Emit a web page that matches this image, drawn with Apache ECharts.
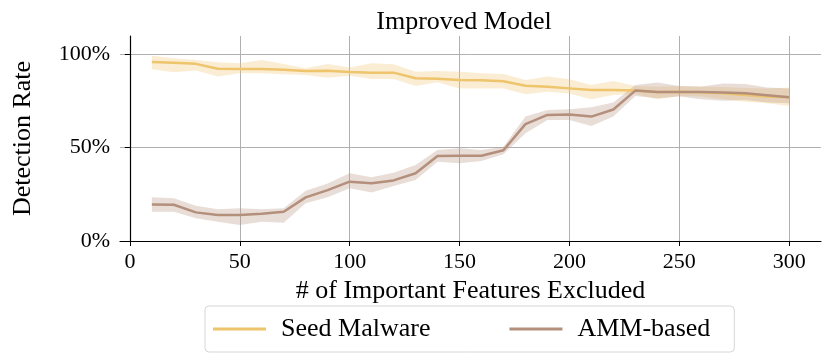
<!DOCTYPE html>
<html>
<head>
<meta charset="utf-8">
<script src="https://cdn.jsdelivr.net/npm/echarts@6/dist/echarts.min.js"></script>
<style>
    html, body { margin: 0; padding: 0; background: #fff; }
    #chart { width: 830px; height: 362px; }
</style>
</head>
<body>
<div id="chart"></div>
<script>
// number of important features excluded
const xValues = [10, 20, 30, 40, 50, 60, 70, 80, 90, 100, 110, 120, 130, 140, 150,
    160, 170, 180, 190, 200, 210, 220, 230, 240, 250, 260, 270, 280, 290, 300];

// detection rate (%), mean and band edges
const seedMean = [95.7, 95.3, 94.7, 92.1, 92.0, 92.0, 91.5, 90.9, 91.0, 90.3, 90.0, 90.0, 87.0, 86.8, 86.1,
    86.0, 85.4, 83.0, 82.5, 81.6, 80.7, 80.7, 80.4, 79.5, 79.8, 79.5, 79.0, 78.0, 77.2, 76.8];
const seedHigh = [99.1, 97.7, 96.8, 95.5, 95.0, 96.8, 94.6, 92.3, 94.6, 92.8, 95.0, 94.5, 90.5, 90.9, 90.5,
    89.7, 89.3, 86.1, 87.9, 86.5, 83.4, 85.6, 82.9, 82.5, 82.9, 82.5, 82.3, 81.8, 81.5, 82.0];
const seedLow = [91.8, 90.2, 91.1, 87.9, 89.7, 89.7, 89.1, 88.8, 87.3, 88.4, 86.6, 86.6, 82.9, 84.9, 81.5,
    81.5, 81.5, 78.4, 79.8, 78.8, 75.8, 78.0, 78.6, 75.8, 77.5, 77.2, 75.8, 74.5, 73.6, 72.2];

const ammMean = [19.5, 19.4, 15.3, 13.9, 13.9, 14.6, 15.6, 23.3, 27.2, 31.7, 30.9, 32.4, 36.2, 45.5, 45.6,
    45.6, 48.5, 62.5, 67.4, 67.6, 66.5, 70.3, 80.4, 79.6, 79.6, 79.6, 79.4, 79.0, 77.9, 76.8];
const ammHigh = [23.4, 22.8, 18.9, 17.0, 17.5, 17.0, 17.5, 26.9, 30.8, 36.2, 34.1, 36.5, 40.6, 48.7, 49.6,
    48.7, 50.4, 66.5, 70.1, 70.4, 71.5, 74.0, 83.4, 84.7, 82.9, 82.6, 84.2, 84.0, 82.0, 81.5];
const ammLow = [15.7, 15.7, 12.1, 10.3, 8.6, 10.3, 9.8, 20.2, 23.4, 28.2, 25.9, 29.4, 32.6, 42.4, 41.6,
    42.8, 46.4, 57.6, 64.7, 64.7, 61.5, 66.5, 77.5, 76.3, 77.2, 75.8, 75.0, 75.4, 74.0, 73.6];

const xTicks = [0, 50, 100, 150, 200, 250, 300];
const yTicks = [0, 50, 100];

const seedColor = '#eec46c';
const ammColor = '#b48f7c';
const font = 'Liberation Serif';

function pairs(ys) {
    return xValues.map((x, i) => [x, ys[i]]);
}

// shaded band between low and high, drawn as one polygon through the axes
function band(key, lo, hi, fill) {
    return {
        name: key + '-band',
        type: 'custom',
        silent: true,
        data: xValues.map((x, i) => [x, lo[i], hi[i]]),
        encode: { x: 0, y: [1, 2] },
        renderItem: function (params, api) {
            if (params.dataIndex !== 0) return;
            const top = xValues.map((x, i) => api.coord([x, hi[i]]));
            const bottom = xValues.map((x, i) => api.coord([x, lo[i]])).reverse();
            return {
                type: 'polygon',
                shape: { points: top.concat(bottom) },
                style: { fill: fill }
            };
        }
    };
}

var myChart = echarts.init(document.getElementById('chart'));

myChart.setOption({
    animation: false,
    textStyle: { fontFamily: font },
    title: {
        text: 'Improved Model',
        left: 459,
        top: 4,
        textAlign: 'center',
        textStyle: { fontFamily: font, fontSize: 26, fontWeight: 'normal', color: '#000' }
    },
    legend: {
        data: ['Seed Malware', 'AMM-based'],
        left: 205,
        top: 306,
        icon: 'rect',
        itemWidth: 53,
        itemHeight: 3,
        itemGap: 79,
        padding: [8, 24, 8, 8],
        borderColor: '#d6d6d6',
        borderWidth: 1,
        borderRadius: 4,
        textStyle: { fontFamily: font, fontSize: 26, color: '#000', lineHeight: 30, padding: [0, 0, 0, 10] }
    },
    grid: {
        left: 120,
        right: 9,
        top: 36,
        bottom: 121
    },
    xAxis: {
        type: 'value',
        min: -4.5,
        max: 314.5,
        name: '# of Important Features Excluded',
        nameLocation: 'middle',
        nameGap: 36,
        nameTextStyle: { fontFamily: font, fontSize: 26, color: '#000' },
        axisLine: { show: true, onZero: false, lineStyle: { color: '#000', width: 1.2 } },
        axisTick: { show: true, customValues: xTicks, length: 5, lineStyle: { color: '#000' } },
        axisLabel: { customValues: xTicks, margin: 10, fontFamily: font, fontSize: 22, color: '#000' },
        splitLine: { show: true, lineStyle: { color: '#b0b0b0', width: 1 } }
    },
    yAxis: {
        type: 'value',
        min: 0,
        max: 109.6,
        name: 'Detection Rate',
        nameLocation: 'middle',
        nameGap: 84,
        nameTextStyle: { fontFamily: font, fontSize: 26, color: '#000' },
        axisLine: { show: true, lineStyle: { color: '#000', width: 1.2 } },
        axisTick: { show: true, customValues: yTicks, length: 5, lineStyle: { color: '#000' } },
        axisLabel: {
            customValues: yTicks, margin: 10, fontFamily: font, fontSize: 22, color: '#000',
            formatter: v => v + '%'
        },
        splitLine: { show: true, lineStyle: { color: '#b0b0b0', width: 1 } }
    },
    series: [
        band('seed', seedLow, seedHigh, 'rgba(238, 196, 108, 0.3)'),
        {
            name: 'Seed Malware', type: 'line', data: pairs(seedMean),
            symbol: 'none', color: seedColor,
            lineStyle: { color: seedColor, width: 2.5 }
        },
        band('amm', ammLow, ammHigh, 'rgba(180, 143, 124, 0.3)'),
        {
            name: 'AMM-based', type: 'line', data: pairs(ammMean),
            symbol: 'none', color: ammColor,
            lineStyle: { color: ammColor, width: 2.5 }
        }
    ]
});
</script>
</body>
</html>
